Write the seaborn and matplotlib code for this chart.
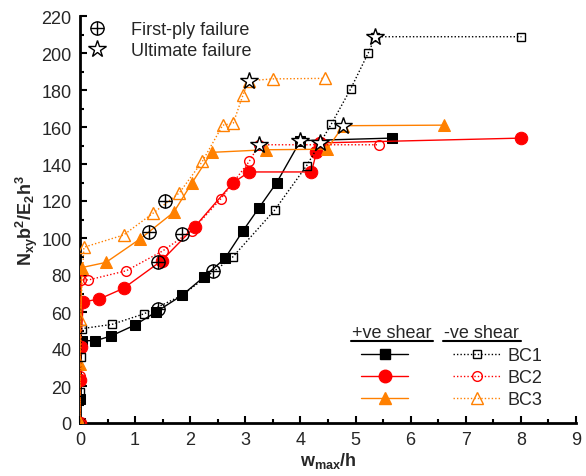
import numpy as np
import pandas as pd
import matplotlib
matplotlib.use("Agg")
import matplotlib.pyplot as plt
import seaborn as sns
from matplotlib.lines import Line2D
from matplotlib.legend_handler import HandlerTuple
from matplotlib.ticker import MultipleLocator

# ---------------- data ----------------
bc1_pos_x = [0, 0.005, 0.03, 0.28, 0.56, 1.0, 1.38, 1.85, 2.25, 2.63, 2.96, 3.24, 3.57, 4.0, 5.66]
bc1_pos_y = [0, 13, 44.5, 44.5, 47, 53, 60, 69, 79, 89, 104, 116, 130, 152.6, 154]
bc1_neg_x = [0, 0.005, 0.01, 0.03, 0.58, 1.16, 1.85, 2.77, 3.53, 4.11, 4.56, 4.91, 5.23, 5.36, 8.01]
bc1_neg_y = [0, 17, 35.7, 51, 53.3, 59, 69, 89.7, 115, 139, 161.6, 180.5, 200, 208.8, 208.8]
bc2_pos_x = [0, 0.005, 0.01, 0.06, 0.35, 0.79, 1.48, 2.08, 2.77, 3.07, 4.2, 4.29, 4.36, 8.01]
bc2_pos_y = [0, 23, 41, 65.5, 67, 72.8, 87.7, 106, 129.7, 135.7, 135.7, 146.3, 151.4, 154]
bc2_neg_x = [0, 0.005, 0.01, 0.15, 0.84, 1.5, 2.03, 2.55, 3.07, 3.25, 5.42]
bc2_neg_y = [0, 25.6, 77.5, 77.3, 82.3, 93, 104, 121, 141.4, 150.4, 150.4]
bc3_pos_x = [0, 0.005, 0.03, 0.47, 1.09, 1.7, 2.03, 2.39, 3.38, 4.48, 4.78, 6.6]
bc3_pos_y = [0, 32, 84, 86.8, 99.5, 113.9, 129.7, 146.3, 147.7, 148, 160.7, 161]
bc3_neg_x = [0, 0.005, 0.07, 0.79, 1.33, 1.8, 2.22, 2.59, 2.78, 2.96, 3.06, 3.5, 4.44]
bc3_neg_y = [0, 56, 95, 101.6, 113.5, 124.3, 141.4, 161, 162, 177.5, 185, 186, 186.3]

first_ply_x = [2.41, 1.41, 1.41, 1.85, 1.25, 1.55]
first_ply_y = [82.3, 61.6, 86.8, 102, 103, 119.8]
ultimate_x = [4.0, 5.36, 4.36, 3.25, 4.78, 3.06]
ultimate_y = [152.6, 208.8, 151.4, 150.4, 160.7, 185]

series_labels = ["BC1", "BC2", "BC3"]
xticks = list(range(0, 10))
yticks = list(range(0, 221, 20))

# ---------------- style ----------------
sns.set_style("ticks")
plt.rcParams["font.family"] = ["Liberation Sans", "DejaVu Sans"]
plt.rcParams["mathtext.fontset"] = "custom"
plt.rcParams["mathtext.rm"] = "Liberation Sans"
plt.rcParams["mathtext.it"] = "Liberation Sans:italic"
plt.rcParams["mathtext.bf"] = "Liberation Sans:bold"

FS = 13
fig = plt.figure(figsize=(5.86, 4.77), dpi=100)
ax = fig.add_axes([80 / 586, 53 / 477, 496 / 586, 407 / 477])

BLACK, RED, ORANGE = "#000000", "#ff0000", "#ff8000"
DOT = (0, (1, 1.5))

pos_specs = [
    (bc1_pos_x, bc1_pos_y, BLACK, "s", 7.5),
    (bc2_pos_x, bc2_pos_y, RED, "o", 9),
    (bc3_pos_x, bc3_pos_y, ORANGE, "^", 9),
]
neg_specs = [
    (bc1_neg_x, bc1_neg_y, BLACK, "s", 6),
    (bc2_neg_x, bc2_neg_y, RED, "o", 7),
    (bc3_neg_x, bc3_neg_y, ORANGE, "^", 8),
]

pos_handles, neg_handles = [], []
for x, y, c, m, ms in pos_specs:
    sns.lineplot(x=x, y=y, ax=ax, sort=False, estimator=None, color=c,
                 linewidth=1.0, linestyle="-", marker=m, markersize=ms,
                 markerfacecolor=c, markeredgecolor=c, zorder=3)
    pos_handles.append(Line2D([], [], color=c, lw=1.0, ls="-", marker=m,
                              ms=ms, mfc=c, mec=c))
for x, y, c, m, ms in neg_specs:
    sns.lineplot(x=x, y=y, ax=ax, sort=False, estimator=None, color=c,
                 linewidth=1.0, linestyle=DOT, marker=m, markersize=ms,
                 markerfacecolor="none", markeredgecolor=c, markeredgewidth=1.0,
                 zorder=3)
    neg_handles.append(Line2D([], [], color=c, lw=1.0, ls=DOT, marker=m,
                              ms=ms, mfc="none", mec=c, mew=1.0))

# failure markers
FPF_MS, ULT_MS = 9.5, 13
ax.plot(first_ply_x, first_ply_y, ls="none", marker="o", ms=FPF_MS, mfc="none",
        mec="black", mew=1.0, zorder=5)
ax.plot(first_ply_x, first_ply_y, ls="none", marker="+", ms=FPF_MS, mec="black",
        mew=1.0, zorder=5)
ax.plot(ultimate_x, ultimate_y, ls="none", marker="*", ms=ULT_MS, mfc="white",
        mec="black", mew=1.0, zorder=6)

# axes
ax.set_xlim(0, 9)
ax.set_ylim(0, 220)
ax.set_xticks(xticks)
ax.set_yticks(yticks)
ax.xaxis.set_minor_locator(MultipleLocator(0.5))
ax.yaxis.set_minor_locator(MultipleLocator(10))
ax.tick_params(which="major", direction="in", length=5, width=1.5,
               labelsize=FS, pad=6, color="black")
ax.tick_params(which="minor", direction="in", length=3, width=1.5, color="black")
for s in ["top", "right"]:
    ax.spines[s].set_visible(False)
for s in ["left", "bottom"]:
    ax.spines[s].set_linewidth(2)
    ax.spines[s].set_color("black")

ax.set_xlabel(r"$\mathbf{w_{max}/h}$", fontsize=FS, labelpad=1)
ax.set_ylabel(r"$\mathbf{N_{xy}b^2/E_2h^3}$", fontsize=FS, labelpad=1)

# failure legend
fpf_h = (Line2D([], [], ls="none", marker="o", ms=FPF_MS, mfc="none", mec="black", mew=1.0),
         Line2D([], [], ls="none", marker="+", ms=FPF_MS, mec="black", mew=1.0))
ult_h = Line2D([], [], ls="none", marker="*", ms=ULT_MS, mfc="white", mec="black", mew=1.0)
leg1 = ax.legend([fpf_h, ult_h], ["First-ply failure", "Ultimate failure"],
                 handler_map={tuple: HandlerTuple(ndivide=1, pad=0)},
                 loc="upper left", bbox_to_anchor=(0.016, 0.988), frameon=False,
                 fontsize=FS, handlelength=1.0, handletextpad=1.4,
                 labelspacing=0.22, borderpad=0, borderaxespad=0)
ax.add_artist(leg1)

# BC legend
leg2 = ax.legend(pos_handles + neg_handles, ["", "", ""] + series_labels,
                 ncol=2, loc="upper left", bbox_to_anchor=(0.567, 0.186),
                 frameon=False, fontsize=FS, handlelength=2.6,
                 handletextpad=0.4, columnspacing=2.1, labelspacing=0.28,
                 borderpad=0, borderaxespad=0)

ax.text(0.628, 0.222, "+ve shear", transform=ax.transAxes, fontsize=FS,
        ha="center", va="center")
ax.text(0.81, 0.222, "-ve shear", transform=ax.transAxes, fontsize=FS,
        ha="center", va="center")
ax.plot([0.546, 0.711], [0.2005, 0.2005], transform=ax.transAxes, color="black",
        lw=1.5, clip_on=False)
ax.plot([0.732, 0.889], [0.2005, 0.2005], transform=ax.transAxes, color="black",
        lw=1.5, clip_on=False)

fig.savefig("out.png", dpi=100)
